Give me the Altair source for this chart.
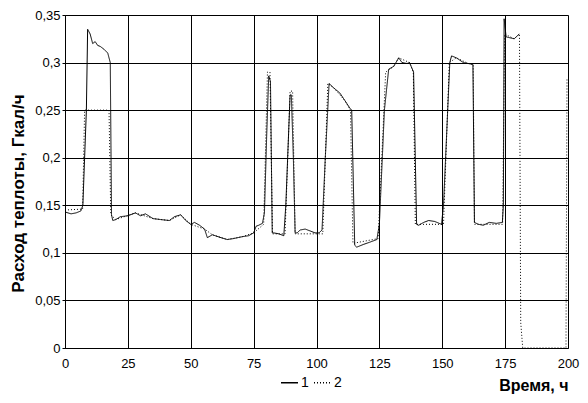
import altair as alt
import pandas as pd

# Series 1 (solid)
t1 = [0, 2.4, 4.4, 6.3, 7.1, 8.5, 9, 10, 11, 12, 13, 14, 15.5, 17, 18, 18.5, 19, 20.2, 22, 25,
      28, 30, 32, 35, 38, 41.5, 43.5, 46, 48, 50, 51.5, 53.5, 55.5, 56.6, 58.6, 62, 64.5, 67,
      70.5, 73, 75, 76, 77, 78.5, 79.3, 80.2, 81, 81.7, 82.4, 83, 85, 87, 87.8, 89.5, 90, 90.8,
      91.5, 92.3, 93.5, 95.5, 97.5, 99.4, 101, 102.2, 103.5, 105, 107, 109.3, 111.3, 113.3, 114,
      115.2, 116, 118.8, 121, 124, 125, 127, 128.7, 130.7, 132.7, 134, 136, 137, 138.6, 139.8,
      140.6, 142.6, 144.6, 147, 149.7, 150.5, 153, 153.7, 155.6, 158.4, 160.4, 162.2, 162.8,
      164.4, 166.3, 168.7, 171.5, 173.9, 174.3, 174.6, 175.4, 178.6, 180.6]
v1 = [0.143, 0.141, 0.142, 0.144, 0.150, 0.25, 0.335, 0.33, 0.32, 0.322, 0.318, 0.317, 0.314,
      0.31, 0.30, 0.14, 0.134, 0.135, 0.138, 0.139, 0.142, 0.139, 0.141, 0.136, 0.135, 0.134,
      0.138, 0.140, 0.134, 0.130, 0.132, 0.129, 0.125, 0.116, 0.119, 0.116, 0.114, 0.115, 0.117,
      0.118, 0.121, 0.128, 0.129, 0.131, 0.142, 0.224, 0.286, 0.28, 0.121, 0.121, 0.120, 0.118,
      0.15, 0.266, 0.266, 0.2, 0.121, 0.121, 0.124, 0.125, 0.123, 0.121, 0.121, 0.124, 0.2,
      0.278, 0.273, 0.268, 0.26, 0.252, 0.25, 0.108, 0.106, 0.109, 0.111, 0.114, 0.13, 0.25,
      0.293, 0.296, 0.305, 0.300, 0.299, 0.300, 0.29, 0.13, 0.129, 0.132, 0.134, 0.133, 0.130,
      0.15, 0.30, 0.307, 0.305, 0.300, 0.299, 0.298, 0.132, 0.130, 0.129, 0.132, 0.131, 0.132,
      0.15, 0.346, 0.327, 0.325, 0.33]

# Series 2 (dotted)
t2 = [0, 7, 7.8, 17.5, 18.2, 20.2, 28, 35, 41.5, 46, 50, 55.5, 58.6, 64.5, 70.5, 75, 79,
      80.5, 81.5, 82.5, 87.5, 89.5, 90.5, 91.5, 102.5, 104.5, 107, 111.3, 113.5, 114.5, 124.5,
      127.5, 130.7, 132.7, 137, 138.5, 139.3, 150.5, 152.8, 155.6, 160.4, 162.3, 162.8, 174,
      174.8, 178.6, 180.7, 181.2, 182, 199.2, 199.6]
v2 = [0.145, 0.146, 0.25, 0.25, 0.14, 0.135, 0.142, 0.136, 0.134, 0.140, 0.130, 0.125, 0.119,
      0.114, 0.117, 0.121, 0.13, 0.29, 0.29, 0.12, 0.12, 0.27, 0.27, 0.12, 0.12, 0.278, 0.273,
      0.26, 0.25, 0.11, 0.115, 0.29, 0.296, 0.305, 0.30, 0.29, 0.13, 0.13, 0.30, 0.305, 0.299,
      0.298, 0.13, 0.13, 0.33, 0.325, 0.33, 0.027, 0.0, 0.0, 0.284]

x_ticks = [0, 25, 50, 75, 100, 125, 150, 175, 200]
y_ticks = [0, 0.05, 0.1, 0.15, 0.2, 0.25, 0.3, 0.35]

rows = []
for i, (t, v) in enumerate(zip(t1, v1)):
    rows.append({"t": t, "v": v, "s": "1", "o": i})
for i, (t, v) in enumerate(zip(t2, v2)):
    rows.append({"t": t, "v": v, "s": "2", "o": i})
df = pd.DataFrame(rows)

FONT = "Liberation Sans"

leg = dict(title=None, orient="none", legendX=215, legendY=358, direction="horizontal",
           symbolType="stroke", symbolSize=289, symbolStrokeWidth=1.5, labelFontSize=14,
           labelFont=FONT, labelColor="black", labelOffset=2, columnPadding=2)

chart = alt.Chart(df).mark_line(strokeWidth=1, clip=True).encode(
    x=alt.X("t:Q", scale=alt.Scale(domain=[0, 200], nice=False),
            axis=alt.Axis(values=x_ticks, title="Время, ч", tickSize=0, labelPadding=9,
                          labelFontSize=13, labelColor="black", labelFont=FONT,
                          titleFont=FONT, titleFontSize=16, titleFontWeight="bold",
                          titleColor="black", titleAnchor="end", titleAlign="right",
                          titleX=503, titleY=37, titleBaseline="middle",
                          domainColor="black", gridColor="black", gridOpacity=1,
                          gridWidth=1, labelFlush=False)),
    y=alt.Y("v:Q", scale=alt.Scale(domain=[0, 0.35], nice=False),
            axis=alt.Axis(values=y_ticks, title="Расход теплоты, Гкал/ч", tickSize=3,
                          tickColor="black", labelPadding=2,
                          labelExpr="replace(format(datum.value, '.2~f'), '.', ',')",
                          labelFontSize=13, labelColor="black", labelFont=FONT,
                          titleFont=FONT, titleFontSize=17, titleFontWeight="bold",
                          titleColor="black", titleX=-55, titleY=178, titleAngle=-90,
                          titleBaseline="top", titleAlign="center",
                          domainColor="black", gridColor="black", gridOpacity=1,
                          gridWidth=1, labelFlush=False)),
    color=alt.Color("s:N", scale=alt.Scale(domain=["1", "2"], range=["black", "black"]),
                    legend=alt.Legend(**leg)),
    strokeDash=alt.StrokeDash("s:N", scale=alt.Scale(domain=["1", "2"], range=[[1, 0], [1, 2]]),
                              legend=alt.Legend(**leg)),
    order="o:Q",
).properties(
    width=503, height=333,
    autosize=alt.AutoSizeParams(type="none"),
    padding={"left": 57, "top": 7, "right": 12, "bottom": 47},
).configure_view(stroke="black", strokeWidth=1).configure(background="white")

chart.save("out.html", embed_options={"renderer": "svg", "actions": False})
